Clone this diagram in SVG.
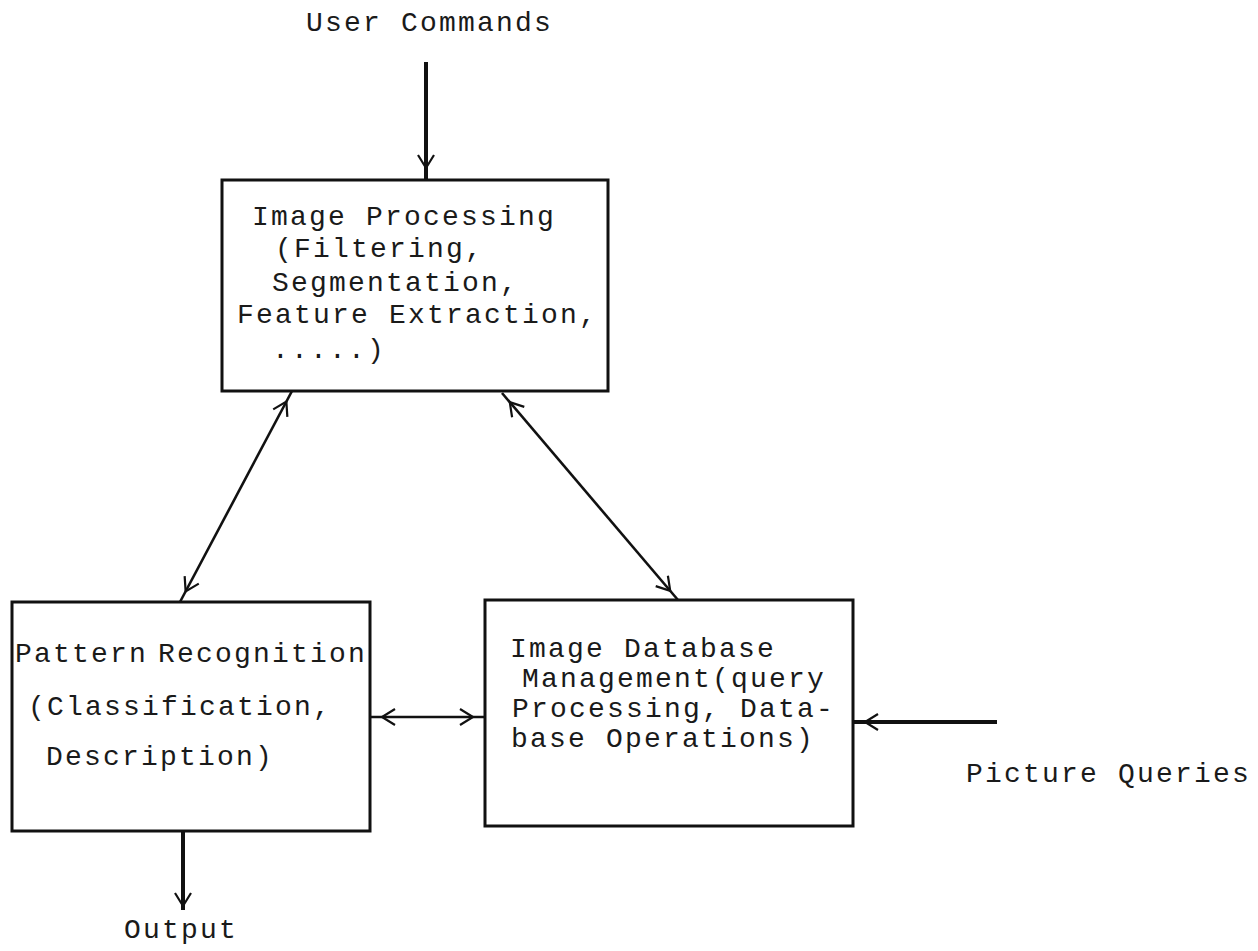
<svg xmlns="http://www.w3.org/2000/svg" width="1258" height="951" viewBox="0 0 1258 951">
<style>
.box{fill:none;stroke:#111;stroke-width:3}
.t{font-family:"Liberation Mono","DejaVu Sans Mono",monospace;font-size:28px;letter-spacing:2.2px;fill:#1a1a1a}
.c{fill:none;stroke:#111;stroke-width:2.6}
.bold{stroke-width:4}
</style>
<defs>
<marker id="ah" markerUnits="userSpaceOnUse" viewBox="0 0 40 20" markerWidth="40" markerHeight="20" refX="26" refY="10" orient="auto-start-reverse">
<path d="M1,2 L14,10 L1,18" fill="none" stroke="#111" stroke-width="2.2"/>
</marker>
<marker id="ah2" markerUnits="userSpaceOnUse" viewBox="0 0 40 20" markerWidth="40" markerHeight="20" refX="18" refY="10" orient="auto-start-reverse">
<path d="M1,2 L14,10 L1,18" fill="none" stroke="#111" stroke-width="2.2"/>
</marker>
</defs>
<rect width="1258" height="951" fill="#fff"/>
<g id="connectors">
<path class="c bold" d="M426,62 L426,180" marker-end="url(#ah)"/>
<path class="c" d="M292,391 L180,602" marker-start="url(#ah)" marker-end="url(#ah)"/>
<path class="c" d="M502,393 L678,600" marker-start="url(#ah)" marker-end="url(#ah)"/>
<path class="c" d="M370,717 L485,717" marker-start="url(#ah)" marker-end="url(#ah)"/>
<path class="c bold" d="M997,722 L853,722" marker-end="url(#ah)"/>
<path class="c bold" d="M183,831 L183,910" marker-end="url(#ah2)"/>
</g>
<g id="user-commands">
<text class="t" x="306" y="31">User Commands</text>
</g>
<g id="image-processing">
<rect class="box" x="222" y="180" width="386" height="211"/>
<text class="t" x="252" y="225">Image Processing</text>
<text class="t" x="275" y="257">(Filtering,</text>
<text class="t" x="272" y="291">Segmentation,</text>
<text class="t" x="237" y="323">Feature Extraction,</text>
<text class="t" x="272" y="358">.....)</text>
</g>
<g id="pattern-recognition">
<rect class="box" x="12" y="602" width="358" height="229"/>
<text class="t" x="15" y="662">Pattern <tspan x="158">Recognition</tspan></text>
<text class="t" x="28" y="715">(Classification,</text>
<text class="t" x="46" y="765">Description)</text>
</g>
<g id="image-database">
<rect class="box" x="485" y="600" width="368" height="226"/>
<text class="t" x="510" y="657">Image Database</text>
<text class="t" x="522" y="687">Management(query</text>
<text class="t" x="512" y="717">Processing, Data-</text>
<text class="t" x="511" y="747">base Operations)</text>
</g>
<g id="picture-queries">
<text class="t" x="966" y="782">Picture Queries</text>
</g>
<g id="output">
<text class="t" x="124" y="938">Output</text>
</g>
</svg>
